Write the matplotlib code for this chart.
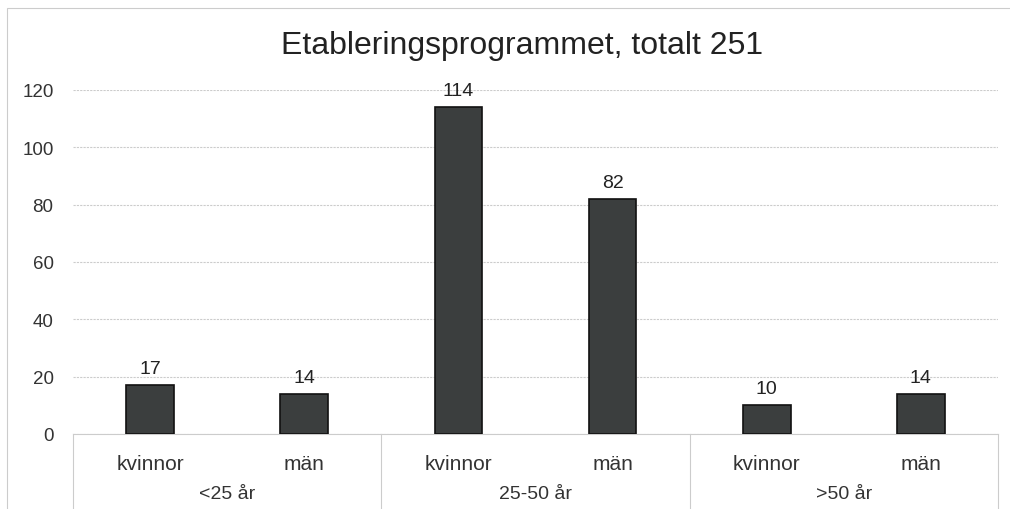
import matplotlib
matplotlib.use("Agg")
import matplotlib.pyplot as plt
from matplotlib.patches import Rectangle
from matplotlib.lines import Line2D

plt.rcParams['font.family'] = ['Liberation Sans', 'DejaVu Sans']

title = "Etableringsprogrammet, totalt 251"
groups = ["<25 år", "25-50 år", ">50 år"]
genders = ["kvinnor", "män"]
values = [17, 14, 114, 82, 10, 14]
yticks = [0, 20, 40, 60, 80, 100, 120]

fig = plt.figure(figsize=(10.1, 5.1), dpi=100)
fig.patch.set_facecolor("white")
ax = fig.add_axes([73/1010, 1-435/510, 925/1010, 344/510])

n = len(values)
x = list(range(n))
bars = ax.bar(x, values, width=0.31, color="#3b3e3e", edgecolor="#111111", linewidth=1.2, zorder=3)
for xi, v in zip(x, values):
    ax.annotate(str(v), (xi, v), xytext=(0, 6), textcoords="offset points",
                ha="center", va="bottom", fontsize=14, color="#222222")

ax.set_xlim(-0.5, n-0.5)
ax.set_ylim(0, 120)
ax.set_yticks(yticks)
ax.set_yticklabels([str(t) for t in yticks], fontsize=13.5, color="#333333")
ax.tick_params(axis='y', length=0, pad=14)
ax.tick_params(axis='x', length=0)
ax.set_xticks([])
ax.grid(axis='y', color="#cccccc", linewidth=0.8, linestyle=(0, (2, 1)), zorder=0)
for s in ["top", "right", "left"]:
    ax.spines[s].set_visible(False)
ax.spines["bottom"].set_color("#cccccc")
ax.spines["bottom"].set_linewidth(0.8)

trans = ax.get_xaxis_transform()
ax_h_px = 344
def yax(px_below):
    return -px_below / ax_h_px

for i in range(n):
    ax.text(i, yax(30), genders[i % 2], transform=trans, ha="center", va="center",
            fontsize=15, color="#333333")
for g, name in enumerate(groups):
    ax.text(2*g + 0.5, yax(60), name, transform=trans, ha="center", va="center",
            fontsize=14, color="#333333")
for b in [-0.5, 1.5, 3.5, 5.5]:
    ax.add_line(Line2D([b, b], [0, yax(80)], transform=trans, color="#cccccc",
                       linewidth=0.8, clip_on=False))

fig.text(522/1010, 1-46/510, title, ha="center", va="center", fontsize=23, color="#222222")

fig.patches.append(Rectangle((7/1010, -0.1), 1.2, 1-9/510+0.1, transform=fig.transFigure,
                             fill=False, edgecolor="#cccccc", linewidth=0.8))

fig.savefig("out.png", dpi=100, facecolor="white")
